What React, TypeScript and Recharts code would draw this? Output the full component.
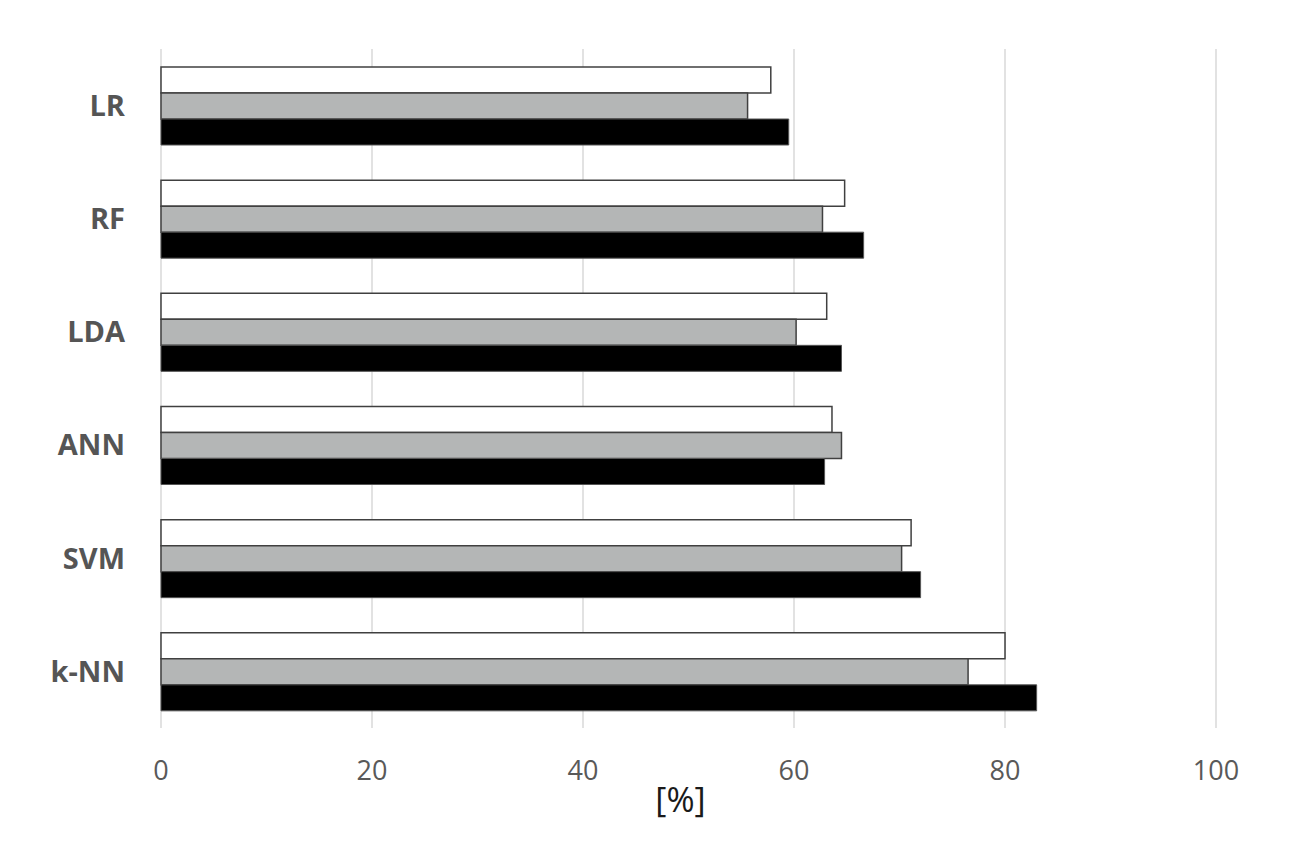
import { BarChart, Bar, XAxis, YAxis, CartesianGrid, Label } from "recharts";

const categories = ["LR", "RF", "LDA", "ANN", "SVM", "k-NN"];
const whiteValues = [57.8, 64.8, 63.1, 63.6, 71.1, 80.0];
const grayValues = [55.6, 62.7, 60.2, 64.5, 70.2, 76.5];
const blackValues = [59.5, 66.6, 64.5, 62.9, 72.0, 83.0];
const xTicks = [0, 20, 40, 60, 80, 100];

const data = categories.map((name, i) => ({
  name,
  white: whiteValues[i],
  gray: grayValues[i],
  black: blackValues[i],
}));

const font = "'Open Sans', Calibri, sans-serif";

export default function App() {
  return (
    <div style={{ position: "absolute", left: 0, top: 0, background: "#fff" }}>
      <BarChart
        width={1300}
        height={861}
        data={data}
        layout="vertical"
        margin={{ top: 49, right: 84, bottom: 0, left: 0 }}
        barSize={26}
        barGap={0}
      >
        <CartesianGrid horizontal={false} stroke="#d9d9d9" strokeWidth={1.5} />
        <XAxis
          type="number"
          domain={[0, 100]}
          ticks={xTicks}
          height={133}
          axisLine={false}
          tickLine={false}
          tickSize={0}
          tickMargin={33}
          tick={{ fontSize: 27, fill: "#595959", fontFamily: font }}
        >
          <Label
            value="[%]"
            position="insideTop"
            offset={60}
            dx={-8}
            fontSize={34}
            fill="#1a1a1a"
            fontFamily={font}
          />
        </XAxis>
        <YAxis
          type="category"
          dataKey="name"
          width={161}
          axisLine={false}
          tickLine={false}
          tickSize={0}
          tickMargin={36}
          tick={{ fontSize: 29, fill: "#555", fontWeight: 700, fontFamily: font }}
        />
        <Bar dataKey="white" fill="#ffffff" stroke="#404040" strokeWidth={1.5} isAnimationActive={false} />
        <Bar dataKey="gray" fill="#b4b6b6" stroke="#404040" strokeWidth={1.5} isAnimationActive={false} />
        <Bar dataKey="black" fill="#000000" stroke="#555555" strokeWidth={1} isAnimationActive={false} />
      </BarChart>
    </div>
  );
}
